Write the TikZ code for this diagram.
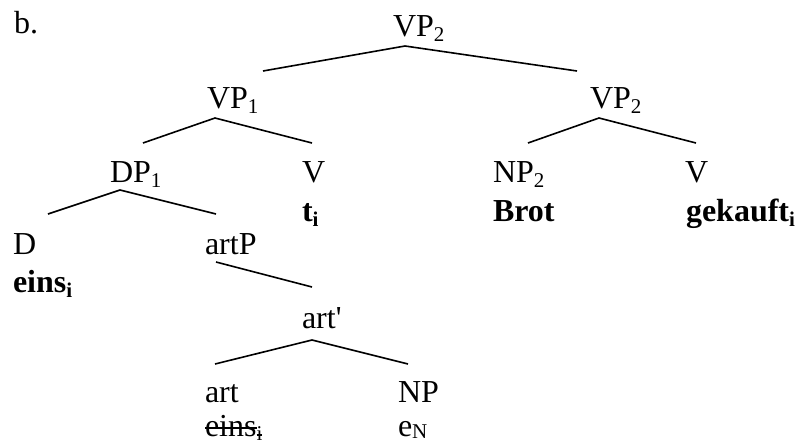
\documentclass[tikz,border=0pt]{standalone}
\usepackage{fontspec}
\setmainfont{Liberation Serif}
\newfontfamily\plainfont{Liberation Serif}[Ligatures=TeXOff]
\usetikzlibrary{calc}
\newcommand{\mysb}[1]{\raisebox{-0.16em}{\fontsize{21}{21}\selectfont #1}}
\newcommand{\mysbl}[1]{\raisebox{-0.08em}{\fontsize{21}{21}\selectfont #1}}
\tikzset{
  lbl/.style={anchor=base west, inner sep=0pt, outer sep=0pt, font=\fontsize{32}{38}\selectfont},
  sblbl/.style={anchor=base west, inner sep=0pt, outer sep=0pt, font=\fontsize{21}{21}\selectfont},
  edge/.style={line width=1.6pt},
  strike/.style={line width=1.3pt}
}
\begin{document}
\begin{tikzpicture}[x=1pt,y=-1pt]
\useasboundingbox (0,0) rectangle (797,445);
% labels
\node[lbl] (b) at (14,33) {b.};
\node[lbl] (vp2top) at (393,36) {VP\mysb{2}};
\node[lbl] (vp1) at (207,108) {VP\mysb{1}};
\node[lbl] (vp2) at (590,108) {VP\mysb{2}};
\node[lbl] (dp1) at (110,182) {DP\mysb{1}};
\node[lbl] (v1) at (302,182) {V};
\node[lbl] (np2) at (493,182) {NP\mysb{2}};
\node[lbl] (v2) at (685,182) {V};
\node[lbl] (ti) at (302,221) {\bfseries t\mysb{i}};
\node[lbl] (brot) at (493,221) {\bfseries Brot};
\node[lbl] (gek) at (686,221) {\bfseries gekauft\mysb{i}};
\node[lbl] (d) at (13,254) {D};
\node[lbl] (eins) at (13,292) {\bfseries eins\mysb{i}};
\node[lbl] (artp) at (205,254) {artP};
\node[lbl] (artbar) at (302,328) {{\plainfont art'}};
\node[lbl] (art) at (205,402) {art};
\node[lbl] (np) at (398,402) {NP};
\node[lbl] (einsx) at (205,436) {eins};
\node[sblbl] (einsxs) at ($(einsx.base east)+(0,4)$) {i};
\node[lbl] (en) at (398,436) {e\mysbl{N}};
% strike-through
\draw[strike] ($(einsx.base west)+(0,-8)$) -- ($(einsx.base east)+(0,-8)$);
\draw[strike] ($(einsxs.base west)+(0,-5)$) -- ($(einsxs.base east)+(0,-5)$);
% connector points
\coordinate (a0) at (405,46);
\coordinate (a0l) at (263,71);
\coordinate (a0r) at (577,71);
\coordinate (a1) at (215,118);
\coordinate (a1l) at (143,143);
\coordinate (a1r) at (312,143);
\coordinate (a2) at (599,118);
\coordinate (a2l) at (528,143);
\coordinate (a2r) at (696,143);
\coordinate (a3) at (120,190);
\coordinate (a3l) at (48,214);
\coordinate (a3r) at (216,214);
\coordinate (a4) at (216,262);
\coordinate (a4r) at (312,287);
\coordinate (a5) at (312,340);
\coordinate (a5l) at (215,364);
\coordinate (a5r) at (408,364);
% connectors
\draw[edge] (a0l) -- (a0) -- (a0r);
\draw[edge] (a1l) -- (a1) -- (a1r);
\draw[edge] (a2l) -- (a2) -- (a2r);
\draw[edge] (a3l) -- (a3) -- (a3r);
\draw[edge] (a4) -- (a4r);
\draw[edge] (a5l) -- (a5) -- (a5r);
\end{tikzpicture}
\end{document}
